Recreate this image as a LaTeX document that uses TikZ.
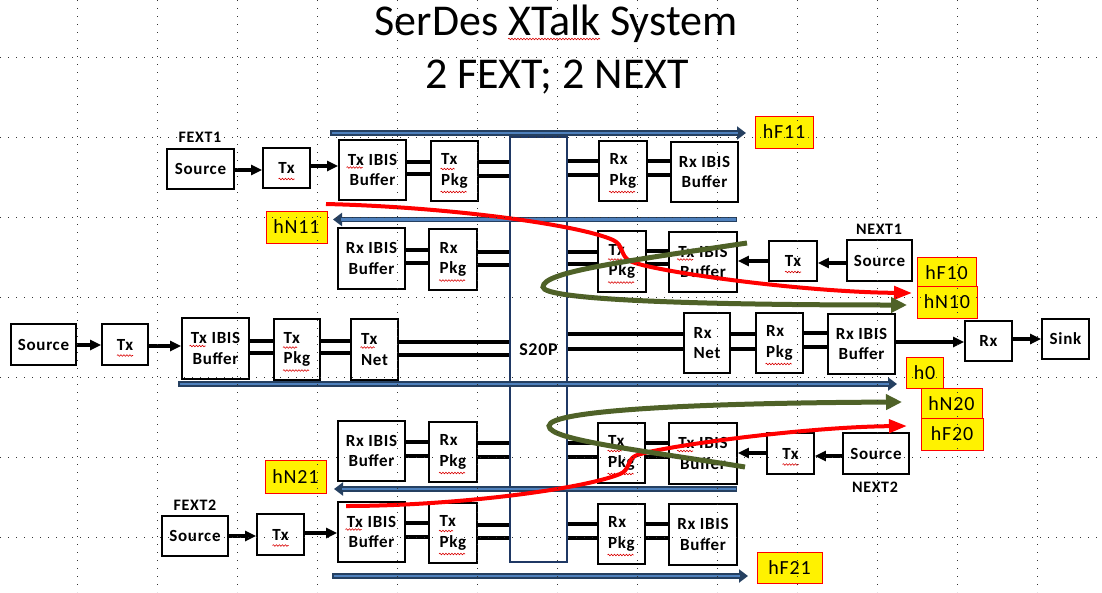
\documentclass[tikz,border=0pt]{standalone}
\usepackage{fontspec}
\setmainfont{Carlito}
\newfontfamily\spaced[LetterSpace=4]{Carlito}
\usetikzlibrary{arrows.meta,decorations.pathmorphing}
\definecolor{bdark}{HTML}{254061}
\definecolor{blight}{HTML}{4F81BD}
\definecolor{olivec}{HTML}{4F6228}
\definecolor{navyb}{HTML}{1F3864}
\begin{document}
\begin{tikzpicture}[x=1pt,y=-1pt,
  sz/.style 2 args={minimum width=#1pt, minimum height=#2pt},
  blk/.style={draw, line width=1.8pt, fill=white, inner sep=0pt, font=\spaced\bfseries\fontsize{17}{20.5}\selectfont, align=center},
  pk/.style={blk, align=left},
  wire/.style={line width=3.2pt},
  arr/.style={line width=3.2pt, -{Triangle[length=11pt,width=10pt]}},
  lab/.style={draw=red, line width=0.8pt, fill=yellow, inner sep=0pt, font=\spaced\fontsize{20}{20}\selectfont},
  tag/.style={font=\spaced\bfseries\fontsize{16}{16}\selectfont},
  redc/.style={red, line width=4pt, -{Triangle[length=18pt,width=13pt]}},
  grnc/.style={olivec, line width=5pt, -{Triangle[length=16pt,width=15pt]}},
  bluo/.style={bdark, line width=5.5pt, -{Triangle[length=9pt,width=13pt]}},
  blui/.style={blight, line width=2.4pt},
  sq/.style={red!85!black, line width=0.6pt, decorate, decoration={snake, amplitude=0.8pt, segment length=3pt}},
  gridl/.style={black!80, line width=0.8pt, dash pattern=on 0.8pt off 7.2pt}
]
\useasboundingbox (0,0) rectangle (1102,592);

% title
\node[anchor=base, font=\fontsize{44}{44}\selectfont] (t1) at (556,35) {SerDes XTalk System};
\node[anchor=base, font=\fontsize{44}{44}\selectfont] (t2) at (557,88) {2 FEXT; 2 NEXT};
\draw[sq] (508,39) -- (600,39);

% S20P
\node[draw=navyb, line width=1.5pt, fill=white, sz={57}{425}, inner sep=0pt, font=\spaced\bfseries\fontsize{18}{18}\selectfont] (s20p) at (538.5,349.5) {S20P\hspace{8pt}};

% blue arrows
\coordinate (bF11s) at (330,133); \coordinate (bF11e) at (746,133);
\coordinate (bN11s) at (737,219.5); \coordinate (bN11e) at (333,219.5);
\coordinate (bh0s) at (178,384); \coordinate (bh0e) at (897,384);
\coordinate (bN21s) at (737,489); \coordinate (bN21e) at (334,489);
\coordinate (bF21s) at (332,576); \coordinate (bF21e) at (748,576);
\foreach \s/\e/\d in {bF11s/bF11e/-8, bh0s/bh0e/-8, bF21s/bF21e/-8, bN11s/bN11e/8, bN21s/bN21e/8}{
  \draw[bluo] (\s) -- (\e);
  \draw[blui] ([xshift=-1.5*\d/8 pt]\s) -- ([xshift=\d pt]\e);
}

% ---------- row FEXT1 ----------
\node[tag] (fext1) at (200,137) {FEXT1};
\node[blk, sz={67}{40}] (src1) at (200.5,169) {Source};
\node[blk, sz={47}{40}] (tx1) at (286.5,168) {Tx};
\node[blk, sz={67}{60}] (buf1) at (372.5,170) {Tx IBIS\\Buffer};
\node[pk, sz={47}{60}] (pkg1) at (454.5,171) {Tx\\Pkg};
\node[pk, sz={48}{60}] (rpkg1) at (623,171) {Rx\\Pkg};
\node[blk, sz={67}{60}] (rbuf1) at (704.5,172) {Rx IBIS\\Buffer};
\draw[arr] (src1.east |- 0,170) -- (tx1.west |- 0,170);
\draw[arr] (tx1.east |- 0,166) -- (buf1.west |- 0,166);
\foreach \y in {162,174} \draw[wire] (buf1.east |- 0,\y) -- (pkg1.west |- 0,\y);
\foreach \y in {162,176} \draw[wire] (pkg1.east |- 0,\y) -- (s20p.west |- 0,\y);
\foreach \y in {161,175} \draw[wire] (s20p.east |- 0,\y) -- (rpkg1.west |- 0,\y);
\foreach \y in {161,175} \draw[wire] (rpkg1.east |- 0,\y) -- (rbuf1.west |- 0,\y);

% ---------- row NEXT1 ----------
\node[blk, sz={67}{61}] (rbuf2) at (371.5,258.5) {Rx IBIS\\Buffer};
\node[pk, sz={48}{61}] (rpkg2) at (453,259.5) {Rx\\Pkg};
\node[pk, sz={48}{61}] (tpkg2) at (622,261.5) {Tx\\Pkg};
\node[blk, sz={68}{60}] (tbuf2) at (703,262) {Tx IBIS\\Buffer};
\node[blk, sz={48}{40}] (ntx1) at (793,261) {Tx};
\node[blk, sz={65}{41}] (nsrc1) at (879.5,260.5) {Source};
\node[tag] (next1) at (879,229) {NEXT1};
\foreach \y in {250,263} \draw[wire] (rbuf2.east |- 0,\y) -- (rpkg2.west |- 0,\y);
\foreach \y in {252,265} \draw[wire] (rpkg2.east |- 0,\y) -- (s20p.west |- 0,\y);
\foreach \y in {252,264} \draw[wire] (s20p.east |- 0,\y) -- (tpkg2.west |- 0,\y);
\foreach \y in {251,264} \draw[wire] (tpkg2.east |- 0,\y) -- (tbuf2.west |- 0,\y);
\draw[arr] (nsrc1.west |- 0,263) -- (ntx1.east |- 0,263);
\draw[arr] (ntx1.west |- 0,261) -- (tbuf2.east |- 0,261);

% ---------- main row ----------
\node[blk, sz={65}{41}] (src0) at (43.5,344.5) {Source};
\node[blk, sz={46}{41}] (tx0) at (125,344.5) {Tx};
\node[blk, sz={67}{61}] (buf0) at (215.5,348.5) {Tx IBIS\\Buffer};
\node[pk, sz={46}{61}] (pkg0) at (297,349.5) {Tx\\Pkg};
\node[pk, sz={47}{61}] (net0) at (374.5,349.5) {Tx\\Net};
\node[pk, sz={46}{60}] (rnet0) at (707,343) {Rx\\Net};
\node[pk, sz={47}{60}] (rpkg0) at (779.5,343) {Rx\\Pkg};
\node[blk, sz={67}{60}] (rbuf0) at (861.5,344) {Rx IBIS\\Buffer};
\node[blk, sz={47}{40}] (rx0) at (988.5,341) {Rx};
\node[blk, sz={47}{40}] (sink0) at (1065.5,339) {Sink};
\draw[arr] (src0.east |- 0,345) -- (tx0.west |- 0,345);
\draw[arr] (tx0.east |- 0,346) -- (buf0.west |- 0,346);
\foreach \y in {341,353} \draw[wire] (buf0.east |- 0,\y) -- (pkg0.west |- 0,\y);
\foreach \y in {341,353} \draw[wire] (pkg0.east |- 0,\y) -- (net0.west |- 0,\y);
\foreach \y in {342,355} \draw[wire] (net0.east |- 0,\y) -- (s20p.west |- 0,\y);
\foreach \y in {334,349} \draw[wire] (s20p.east |- 0,\y) -- (rnet0.west |- 0,\y);
\foreach \y in {334,349} \draw[wire] (rnet0.east |- 0,\y) -- (rpkg0.west |- 0,\y);
\foreach \y in {333,347} \draw[wire] (rpkg0.east |- 0,\y) -- (rbuf0.west |- 0,\y);
\draw[arr] (rbuf0.east |- 0,342) -- (rx0.west |- 0,342);
\draw[arr] (rx0.east |- 0,339) -- (sink0.west |- 0,339);

% ---------- row NEXT2 ----------
\node[blk, sz={67}{60}] (rbuf3) at (371.5,451) {Rx IBIS\\Buffer};
\node[pk, sz={48}{60}] (rpkg3) at (453,452) {Rx\\Pkg};
\node[pk, sz={47}{60}] (tpkg3) at (621.5,453) {Tx\\Pkg};
\node[blk, sz={68}{61}] (tbuf3) at (703,453.5) {Tx IBIS\\Buffer};
\node[blk, sz={47}{41}] (ntx2) at (790.5,453.5) {Tx};
\node[blk, sz={66}{41}] (nsrc2) at (876,453.5) {Source};
\node[tag] (next2) at (875,487) {NEXT2};
\foreach \y in {442,456} \draw[wire] (rbuf3.east |- 0,\y) -- (rpkg3.west |- 0,\y);
\foreach \y in {443,457} \draw[wire] (rpkg3.east |- 0,\y) -- (s20p.west |- 0,\y);
\foreach \y in {443,457} \draw[wire] (s20p.east |- 0,\y) -- (tpkg3.west |- 0,\y);
\foreach \y in {443,457} \draw[wire] (tpkg3.east |- 0,\y) -- (tbuf3.west |- 0,\y);
\draw[arr] (nsrc2.west |- 0,456) -- (ntx2.east |- 0,456);
\draw[arr] (ntx2.west |- 0,453) -- (tbuf3.east |- 0,453);

% ---------- row FEXT2 ----------
\node[tag] (fext2) at (195,505) {FEXT2};
\node[blk, sz={66}{40}] (src4) at (195,536) {Source};
\node[blk, sz={47}{41}] (tx4) at (280.5,534.5) {Tx};
\node[blk, sz={67}{60}] (buf4) at (371.5,532) {Tx IBIS\\Buffer};
\node[pk, sz={48}{60}] (pkg4) at (453,533) {Tx\\Pkg};
\node[pk, sz={47}{60}] (rpkg4) at (621.5,534) {Rx\\Pkg};
\node[blk, sz={68}{61}] (rbuf4) at (703,534.5) {Rx IBIS\\Buffer};
\draw[arr] (src4.east |- 0,536) -- (tx4.west |- 0,536);
\draw[arr] (tx4.east |- 0,533) -- (buf4.west |- 0,533);
\foreach \y in {523,537} \draw[wire] (buf4.east |- 0,\y) -- (pkg4.west |- 0,\y);
\foreach \y in {525,538} \draw[wire] (pkg4.east |- 0,\y) -- (s20p.west |- 0,\y);
\foreach \y in {524,538} \draw[wire] (s20p.east |- 0,\y) -- (rpkg4.west |- 0,\y);
\foreach \y in {524,538} \draw[wire] (rpkg4.east |- 0,\y) -- (rbuf4.west |- 0,\y);

% ---------- spell-check squiggles ----------
\foreach \n in {tx1,ntx1,tx0,ntx2,tx4}
  \draw[sq] ([shift={(-8,11)}]\n.center) -- ([shift={(8,11)}]\n.center);
\foreach \n in {buf1,tbuf2,buf0,tbuf3,buf4}
  \draw[sq] ([shift={(-26,-2.5)}]\n.center) -- ([shift={(-10,-2.5)}]\n.center);
\foreach \n in {pkg1,tpkg2,pkg0,tpkg3,pkg4,net0}
  \draw[sq] ([shift={(-14,-2)}]\n.center) -- ([shift={(0,-2)}]\n.center);
\foreach \n in {pkg1,tpkg2,pkg0,tpkg3,pkg4,rpkg1,rpkg2,rpkg0,rpkg3,rpkg4}
  \draw[sq] ([shift={(-14,21)}]\n.center) -- ([shift={(12,21)}]\n.center);

% ---------- crosstalk curves ----------
\coordinate (r1s) at (326,204); \coordinate (r1e) at (912,293);
\draw[redc] (r1s) .. controls (450,207) and (580,225) .. (613,240)
  .. controls (624,245) and (620,256) .. (630,261)
  .. controls (650,271) and (800,292) .. (r1e);
\coordinate (g1s) at (747,243); \coordinate (g1e) at (907,305);
\draw[grnc] (g1s) .. controls (620,262) and (543,272) .. (543,287)
  .. controls (543,300) and (700,305) .. (g1e);
\coordinate (r2s) at (346,506); \coordinate (r2e) at (907,426);
\draw[redc] (r2s) .. controls (450,506) and (580,490) .. (620,474)
  .. controls (630,470) and (627,460) .. (635,456)
  .. controls (651,448) and (800,427) .. (r2e);
\coordinate (g2s) at (745,467); \coordinate (g2e) at (902,402);
\draw[grnc] (g2s) .. controls (640,450) and (549,440) .. (549,426)
  .. controls (549,410) and (700,403) .. (g2e);

% ---------- labels ----------
\node[lab, sz={58}{32}] (hF11) at (784,132) {hF11};
\node[lab, sz={61}{32}] (hN11) at (296.5,227) {hN11};
\node[lab, sz={59}{32}] (hF10) at (946.5,273) {hF10};
\node[lab, sz={60}{32}] (hN10) at (947,302) {hN10};
\node[lab, sz={37}{31}] (h0) at (924.5,372.5) {h0};
\node[lab, sz={61}{32}] (hN20) at (951.5,404) {hN20};
\node[lab, sz={62}{32}] (hF20) at (952,434) {hF20};
\node[lab, sz={61}{33}] (hN21) at (295.5,476.5) {hN21};
\node[lab, sz={65}{31}] (hF21) at (789.5,567.5) {hF21};

% ---------- grid ----------
\foreach \x in {77,157,...,1037} \draw[gridl] (\x,0) -- (\x,592);
\foreach \y in {57,137,...,537} \draw[gridl] (0,\y) -- (1102,\y);
\end{tikzpicture}
\end{document}
